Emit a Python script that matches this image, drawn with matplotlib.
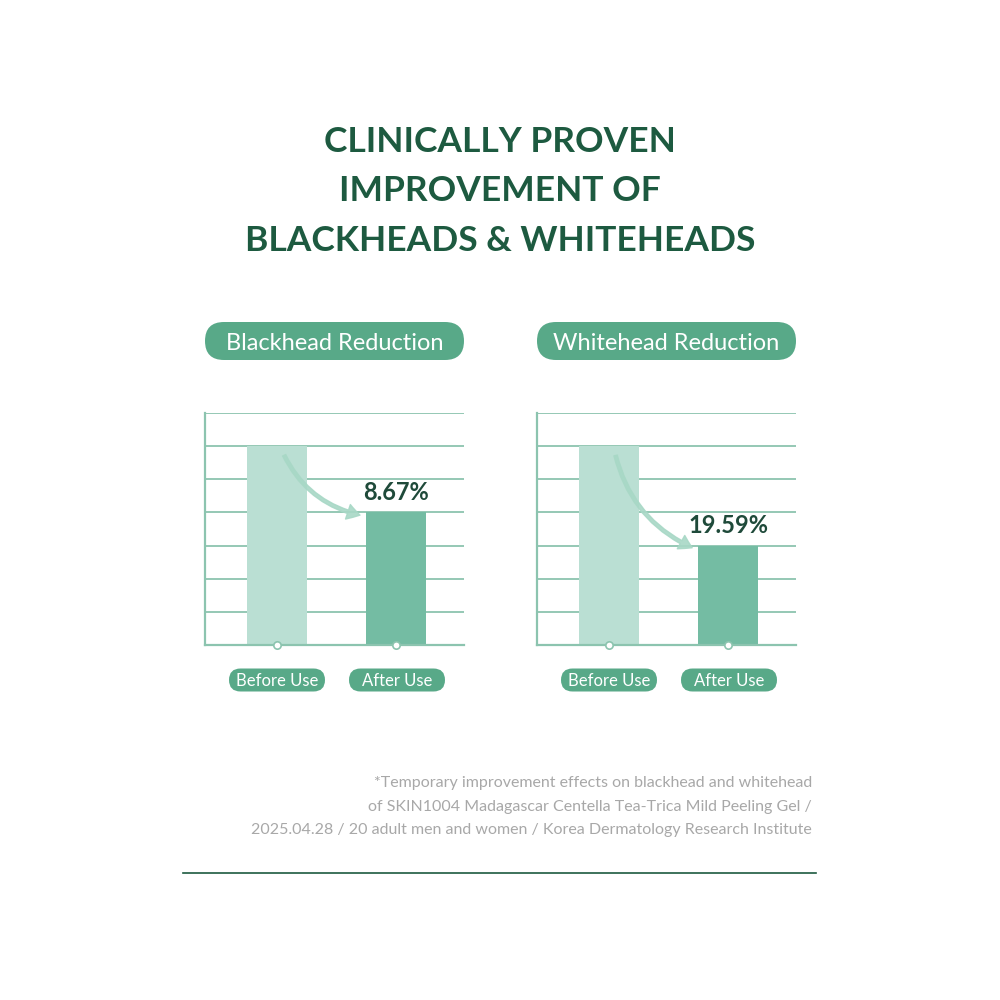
import matplotlib.pyplot as plt
from matplotlib.patches import FancyBboxPatch, FancyArrowPatch

# chart data (schematic bar heights in grid units)
categories = ["Before Use", "After Use"]
panel_titles = ["Blackhead Reduction", "Whitehead Reduction"]
blackhead_values = [6, 4]
whitehead_values = [6, 3]
value_labels = ["8.67%", "19.59%"]

title_lines = ["CLINICALLY PROVEN", "IMPROVEMENT OF", "BLACKHEADS & WHITEHEADS"]
footnote = ["*Temporary improvement effects on blackhead and whitehead",
            "of SKIN1004 Madagascar Centella Tea-Trica Mild Peeling Gel /",
            "2025.04.28 / 20 adult men and women / Korea Dermatology Research Institute"]

dark_green = "#1d5a40"
pill_green = "#58a988"
before_color = "#badfd3"
after_color = "#74bca3"
grid_color = "#8cc4af"

plt.rcParams['font.family'] = ['Lato', 'DejaVu Sans']

fig = plt.figure(figsize=(10, 10), dpi=100)
fig.patch.set_facecolor("white")


def fy(y):
    return 1 - y / 1000


def pill(cx, cy, w, h, text, size):
    x0, y0 = (cx - w / 2) / 1000, fy(cy + h / 2)
    box = FancyBboxPatch((x0, y0), w / 1000, h / 1000,
                         boxstyle=f"round,pad=0,rounding_size={h / 2000}",
                         transform=fig.transFigure, facecolor=pill_green,
                         edgecolor="none")
    fig.patches.append(box)
    fig.text(cx / 1000, fy(cy), text, ha="center", va="center_baseline",
             color="white", fontsize=size)


# title
for i, line in enumerate(title_lines):
    fig.text(0.5, fy([142, 191, 241][i]), line, ha="center", va="center",
             color=dark_green, fontsize=25.5, fontweight="bold")

panels = [(205, blackhead_values, value_labels[0], panel_titles[0]),
          (537, whitehead_values, value_labels[1], panel_titles[1])]

for left, values, label, ptitle in panels:
    ax = fig.add_axes([left / 1000, fy(645), 259 / 1000, 232 / 1000])
    ax.set_xlim(-0.605, 1.571)
    ax.set_ylim(0, 7)
    for g in range(1, 8):
        ax.axhline(g, color=grid_color, lw=1.3, zorder=1)
    ax.bar([0, 1], values, width=0.505, color=[before_color, after_color], zorder=2)
    ax.scatter([0, 1], [0, 0], s=28, facecolor="white", edgecolor=grid_color,
               lw=1.2, zorder=5, clip_on=False)
    for side in ["top", "right"]:
        ax.spines[side].set_visible(False)
    for side in ["left", "bottom"]:
        ax.spines[side].set_color(grid_color)
        ax.spines[side].set_linewidth(1.6)
    ax.set_xticks([])
    ax.set_yticks([])
    ax.patch.set_alpha(0)

    ax.text(1, values[1] + 0.25, label, ha="center", va="bottom",
            color="#1f4a3a", fontsize=17, fontweight="bold", zorder=6)

    arrow = FancyArrowPatch((0.05, 5.8), (0.72, values[1] - 0.1),
                            connectionstyle="arc3,rad=0.25",
                            arrowstyle="simple,head_length=9,head_width=11,tail_width=2.5",
                            mutation_scale=1, color="#a8d8c6", alpha=0.9, zorder=4)
    ax.add_patch(arrow)

    cx = left + 129.5
    pill(cx, 341, 259, 38, ptitle, 17)
    pill(left + 72, 680, 96, 23, categories[0], 12)
    pill(left + 192, 680, 96, 23, categories[1], 12)

# footnote
for i, line in enumerate(footnote):
    fig.text(0.812, fy([783, 807, 830][i]), line, ha="right", va="center",
             color="#a8a8a8", fontsize=11.5)

fig.add_artist(plt.Line2D([0.183, 0.816], [fy(873), fy(873)], color=dark_green,
                          lw=1.2, transform=fig.transFigure))

fig.savefig("out.png", dpi=100, facecolor="white")
